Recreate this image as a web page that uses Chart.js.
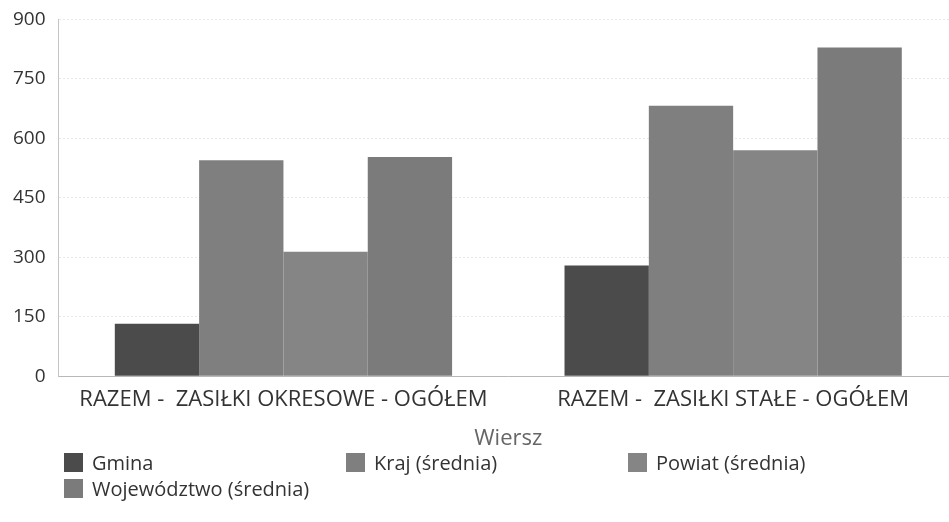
<!DOCTYPE html>
<html lang="pl">
<head>
<meta charset="utf-8">
<script src="https://cdn.jsdelivr.net/npm/chart.js@4/dist/chart.umd.min.js"></script>
<style>
  html, body { margin: 0; padding: 0; background: #fff; }
  #wrap { position: relative; width: 949px; height: 522px; overflow: hidden; }
  #chart { position: absolute; left: 0; top: -5px; }
  #legend {
    position: absolute; left: 64px; top: 450px;
    display: grid; grid-template-columns: 282px 282px 282px;
    row-gap: 2px;
    font-family: "Open Sans", sans-serif; font-size: 20px; color: #333;
  }
  #legend .item { display: flex; align-items: center; height: 24px; }
  #legend .box { width: 19px; height: 19px; margin-right: 9px; }
</style>
</head>
<body>
<div id="wrap">
  <canvas id="chart" width="958" height="522"></canvas>
  <div id="legend"></div>
</div>
<script>
// Categories and series
const categories = [
    'RAZEM -  ZASIŁKI OKRESOWE - OGÓŁEM',
    'RAZEM -  ZASIŁKI STAŁE - OGÓŁEM'
];
const seriesNames = ['Gmina', 'Kraj (średnia)', 'Powiat (średnia)', 'Województwo (średnia)'];
const gmina = [132, 279];
const kraj = [545, 682];
const powiat = [314, 570];
const wojewodztwo = [553, 829];
const yTicks = [0, 150, 300, 450, 600, 750, 900];

const seriesColors = ['#4b4b4b', '#7f7f7f', '#858585', '#7b7b7b'];
const seriesValues = [gmina, kraj, powiat, wojewodztwo];

const datasets = seriesNames.map((name, i) => ({
    label: name,
    data: seriesValues[i],
    backgroundColor: seriesColors[i],
    borderWidth: 0,
    categoryPercentage: 0.75,
    barPercentage: 1.0
}));

const tickFont = { family: '"Open Sans", sans-serif', size: 19 };
const labelFont = { family: '"Open Sans", sans-serif', size: 22 };

new Chart(document.getElementById('chart').getContext('2d'), {
    type: 'bar',
    data: { labels: categories, datasets: datasets },
    options: {
        responsive: false,
        animation: false,
        devicePixelRatio: 1,
        layout: { padding: { top: 3, right: 0, bottom: 65, left: 0 } },
        plugins: {
            legend: { display: false },
            tooltip: { enabled: false }
        },
        scales: {
            x: {
                grid: { display: false, drawTicks: false },
                border: { display: true, color: '#b8b8b8', dash: [2, 2] },
                ticks: { color: '#333', font: labelFont, padding: 10, maxRotation: 0 },
                title: {
                    display: true, text: 'Wiersz', color: '#666',
                    font: labelFont, padding: { top: 3, bottom: 0 }
                }
            },
            y: {
                min: 0,
                max: 900,
                afterBuildTicks: axis => { axis.ticks = yTicks.map(v => ({ value: v })); },
                grid: { color: '#e8e8e8', drawTicks: false },
                border: { display: true, color: '#c4c4c4', dash: [2, 2] },
                ticks: { color: '#333', font: tickFont, padding: 13 }
            }
        }
    }
});

// Legend laid out in three columns
const legendEl = document.getElementById('legend');
datasets.forEach(ds => {
    const item = document.createElement('div');
    item.className = 'item';
    const box = document.createElement('span');
    box.className = 'box';
    box.style.background = ds.backgroundColor;
    const text = document.createElement('span');
    text.textContent = ds.label;
    item.appendChild(box);
    item.appendChild(text);
    legendEl.appendChild(item);
});
</script>
</body>
</html>
